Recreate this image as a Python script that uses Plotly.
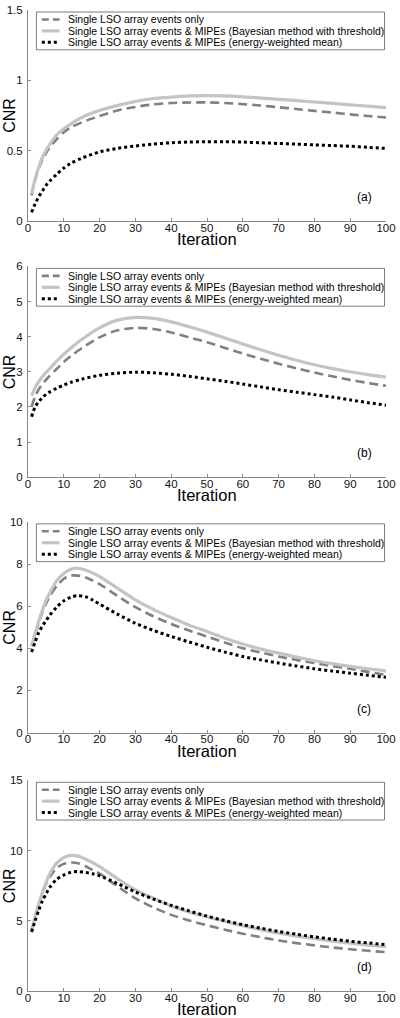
import plotly.graph_objects as go

# ---------------- data ----------------
ITER_AB = [1, 2, 3, 4, 5, 6, 8, 10, 12, 15, 20, 25, 30, 35, 40, 45, 50, 55, 60, 65, 70, 75, 80, 85, 90, 95, 100]
ITER_CD = [1, 2, 3, 4, 5, 6, 8, 10, 12, 14, 16, 18, 20, 25, 30, 35, 40, 45, 50, 55, 60, 65, 70, 75, 80, 85, 90, 95, 100]

A_only = [0.18, 0.29, 0.37, 0.43, 0.48, 0.52, 0.58, 0.63, 0.665, 0.70, 0.745, 0.785, 0.81, 0.828, 0.838, 0.842, 0.842, 0.838, 0.83, 0.82, 0.808, 0.795, 0.782, 0.77, 0.757, 0.745, 0.735]
A_bayes = [0.19, 0.30, 0.38, 0.45, 0.50, 0.54, 0.61, 0.655, 0.69, 0.735, 0.785, 0.82, 0.85, 0.87, 0.88, 0.888, 0.89, 0.888, 0.882, 0.873, 0.864, 0.855, 0.845, 0.835, 0.825, 0.815, 0.805]
A_ewm = [0.06, 0.12, 0.17, 0.21, 0.25, 0.28, 0.33, 0.375, 0.41, 0.445, 0.49, 0.515, 0.532, 0.545, 0.555, 0.56, 0.562, 0.562, 0.56, 0.555, 0.55, 0.545, 0.54, 0.535, 0.53, 0.522, 0.515]

B_only = [2.0, 2.3, 2.5, 2.65, 2.77, 2.88, 3.08, 3.28, 3.45, 3.67, 3.98, 4.18, 4.25, 4.22, 4.12, 3.98, 3.84, 3.68, 3.52, 3.37, 3.23, 3.1, 2.98, 2.87, 2.77, 2.68, 2.6]
B_bayes = [2.32, 2.55, 2.72, 2.86, 2.98, 3.08, 3.3, 3.5, 3.68, 3.92, 4.25, 4.47, 4.55, 4.52, 4.42, 4.28, 4.13, 3.96, 3.79, 3.63, 3.47, 3.33, 3.2, 3.09, 3.0, 2.92, 2.85]
B_ewm = [1.72, 2.0, 2.15, 2.26, 2.35, 2.42, 2.53, 2.62, 2.7, 2.79, 2.9, 2.96, 2.99, 2.97, 2.93, 2.87, 2.8, 2.73, 2.65, 2.57, 2.49, 2.42, 2.35, 2.28, 2.2, 2.12, 2.05]

C_only = [4.1, 4.65, 5.2, 5.7, 6.1, 6.45, 6.95, 7.3, 7.45, 7.45, 7.37, 7.22, 7.05, 6.48, 5.95, 5.52, 5.15, 4.84, 4.56, 4.27, 4.0, 3.8, 3.61, 3.45, 3.3, 3.16, 3.03, 2.88, 2.74]
C_bayes = [4.1, 4.7, 5.3, 5.8, 6.25, 6.6, 7.2, 7.55, 7.75, 7.8, 7.72, 7.58, 7.4, 6.85, 6.3, 5.85, 5.46, 5.1, 4.8, 4.48, 4.2, 3.97, 3.77, 3.58, 3.41, 3.27, 3.14, 3.03, 2.93]
C_ewm = [3.82, 4.3, 4.75, 5.05, 5.3, 5.55, 5.95, 6.25, 6.43, 6.5, 6.45, 6.3, 6.1, 5.62, 5.19, 4.85, 4.56, 4.3, 4.05, 3.82, 3.61, 3.45, 3.3, 3.16, 3.03, 2.92, 2.82, 2.72, 2.62]

D_only = [4.3, 5.25, 6.1, 6.9, 7.6, 8.1, 8.75, 9.05, 9.15, 9.1, 8.9, 8.62, 8.35, 7.45, 6.6, 5.95, 5.42, 5.02, 4.68, 4.36, 4.08, 3.83, 3.6, 3.41, 3.25, 3.1, 2.97, 2.86, 2.77]
D_bayes = [4.3, 5.3, 6.2, 7.0, 7.7, 8.3, 9.1, 9.5, 9.65, 9.6, 9.4, 9.15, 8.85, 8.0, 7.2, 6.6, 6.05, 5.63, 5.28, 4.95, 4.65, 4.37, 4.12, 3.91, 3.72, 3.55, 3.4, 3.27, 3.15]
D_ewm = [4.2, 5.0, 5.75, 6.4, 6.9, 7.35, 7.95, 8.25, 8.45, 8.5, 8.45, 8.35, 8.2, 7.65, 7.05, 6.55, 6.1, 5.7, 5.33, 5.01, 4.72, 4.47, 4.24, 4.04, 3.85, 3.69, 3.54, 3.42, 3.3]

SERIES_NAMES = [
    "Single LSO array events only",
    "Single LSO array events & MIPEs (Bayesian method with threshold)",
    "Single LSO array events & MIPEs (energy-weighted mean)",
]
PANEL_LABELS = ["(a)", "(b)", "(c)", "(d)"]
Y_MAX = [1.5, 6, 10, 15]
Y_DTICK = [0.5, 1, 2, 5]
X_TICKS = [0, 10, 20, 30, 40, 50, 60, 70, 80, 90, 100]

panels = [
    (ITER_AB, A_only, A_bayes, A_ewm),
    (ITER_AB, B_only, B_bayes, B_ewm),
    (ITER_CD, C_only, C_bayes, C_ewm),
    (ITER_CD, D_only, D_bayes, D_ewm),
]

# ---------------- styling ----------------
W, H = 400, 1018
ML, MR, MT, MB = 28, 9, 4, 27
PLOT_H = H - MT - MB
PANEL_PX = [(4, 216), (262, 474), (519, 731), (779, 991)]  # top/bottom pixel rows
FONT = "Liberation Sans, Arial, Helvetica, sans-serif"
AXIS_COLOR = "#8a8a8a"

STYLES = [
    dict(color="#808080", width=2.6, dash="9px,5px"),
    dict(color="#c4c4c4", width=3.2, dash="solid"),
    dict(color="#000000", width=3.0, dash="dot"),
]


def yfrac(px):
    return (H - MB - px) / PLOT_H


fig = go.Figure()
layout = dict(
    width=W, height=H,
    margin=dict(l=ML, r=MR, t=MT, b=MB, pad=0),
    paper_bgcolor="white", plot_bgcolor="white",
    showlegend=False,
    font=dict(family=FONT, size=11.5, color="#000"),
)
annotations = []
shapes = []
PW = W - ML - MR

for i, (it, s_only, s_bayes, s_ewm) in enumerate(panels):
    n = i + 1
    xa = "x" if n == 1 else f"x{n}"
    ya = "y" if n == 1 else f"y{n}"
    top, bot = PANEL_PX[i]
    ph = bot - top
    for k, ys in enumerate([s_only, s_bayes, s_ewm]):
        fig.add_trace(go.Scatter(
            x=it, y=ys, mode="lines", name=SERIES_NAMES[k],
            line=dict(shape="spline", smoothing=0.8, **STYLES[k]),
            xaxis=xa, yaxis=ya, showlegend=False, cliponaxis=False,
        ))
    common = dict(showline=True, linecolor=AXIS_COLOR, linewidth=1, mirror=False,
                  ticks="inside", ticklen=3, tickcolor=AXIS_COLOR, tickwidth=1,
                  showgrid=False, zeroline=False,
                  tickfont=dict(family=FONT, size=11.5, color="#111"))
    layout[f"xaxis{'' if n == 1 else n}"] = dict(
        domain=[0, 1], anchor=ya, range=[0, 100], tickvals=X_TICKS,
        ticklabelstandoff=-4, ticklabeloverflow="allow", **common)
    layout[f"yaxis{'' if n == 1 else n}"] = dict(
        domain=[yfrac(bot), yfrac(top)], anchor=xa, range=[0, Y_MAX[i]],
        dtick=Y_DTICK[i], tick0=0, ticklabelstandoff=2, ticklabeloverflow="allow", **common)

    xd = f"{xa} domain"
    yd = f"{ya} domain"
    # axis titles
    annotations.append(dict(text="Iteration", xref=xd, yref=yd, x=0.5, y=0,
                            yshift=-18, showarrow=False, xanchor="center", yanchor="middle",
                            font=dict(family=FONT, size=16.5, color="#000")))
    annotations.append(dict(text="CNR", xref=xd, yref=yd, x=0, y=0.5, xshift=-18.5,
                            textangle=-90, showarrow=False, xanchor="center", yanchor="middle",
                            font=dict(family=FONT, size=16, color="#000")))
    # panel label
    annotations.append(dict(text=PANEL_LABELS[i], xref=xd, yref=yd,
                            x=(369 - ML) / PW, y=24 / ph, showarrow=False,
                            xanchor="center", yanchor="middle",
                            font=dict(family=FONT, size=12, color="#000")))
    # legend box
    box_l, box_r = 36.5, 389.5
    box_t, box_b = 2, 40
    shapes.append(dict(type="rect", xref=xd, yref=yd,
                       x0=(box_l - ML) / PW, x1=(box_r - ML) / PW,
                       y0=1 - box_b / ph, y1=1 - box_t / ph,
                       line=dict(color="#7a7a7a", width=1), fillcolor="white", layer="above"))
    rows = [9.5, 21, 32.5]
    for k in range(3):
        yy = 1 - rows[k] / ph
        st = STYLES[k]
        ldash = {"9px,5px": "7px,4px"}.get(st["dash"], st["dash"])
        shapes.append(dict(type="line", xref=xd, yref=yd,
                           x0=(42 - ML) / PW, x1=(60 - ML) / PW, y0=yy, y1=yy,
                           line=dict(color=st["color"], width=st["width"], dash=ldash),
                           layer="above"))
        annotations.append(dict(text=SERIES_NAMES[k], xref=xd, yref=yd,
                                x=(67 - ML) / PW, y=yy, showarrow=False,
                                xanchor="left", yanchor="middle",
                                font=dict(family=FONT, size=10.5, color="#000")))

layout["annotations"] = annotations
layout["shapes"] = shapes
fig.update_layout(**layout)
fig.write_html("out.html", config={"displayModeBar": False},
               post_script="document.body.style.margin='0';document.body.style.overflow='hidden';")
